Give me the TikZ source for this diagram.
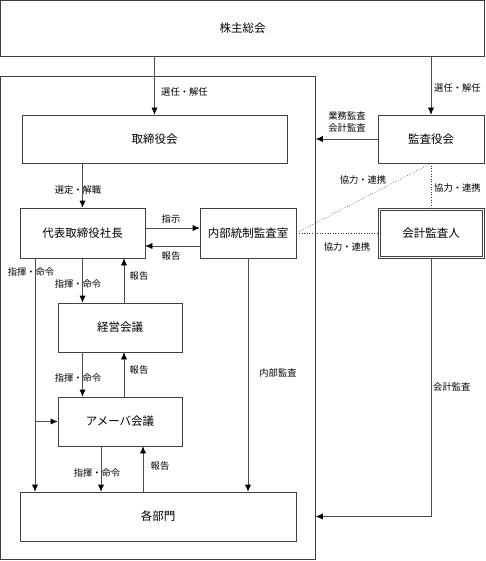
\documentclass[tikz,border=0pt]{standalone}
\usepackage{fontspec}
\setmainfont{Noto Sans CJK JP}
\usetikzlibrary{arrows.meta}
\tikzset{
  box/.style={draw=black!75, line width=.6pt, inner sep=0pt, font=\fontsize{11.5}{13}\selectfont},
  lbl/.style={inner sep=0pt, font=\fontsize{9.3}{11.5}\selectfont},
  conn/.style={draw=black!70, line width=.6pt},
  coop/.style={draw=black!80, line width=.6pt, dotted}
}
\begin{document}
\begin{tikzpicture}[>={Latex[length=7pt,width=6pt,black]}, x=1pt, y=-1pt]
    \useasboundingbox (0,0) rectangle (485,561);
    \node[box, minimum width=484pt, minimum height=55.5pt] (soukai) at (242.5,28.25) {株主総会};
    \node[box, minimum width=315pt, minimum height=483pt] (waku) at (158,317.5) {};
    \node[box, minimum width=265pt, minimum height=48pt] (torishimari) at (154.5,139) {取締役会};
    \node[box, minimum width=106pt, minimum height=48pt] (kansayaku) at (431,139) {監査役会};
    \node[box, minimum width=125pt, minimum height=50pt] (daihyo) at (82.5,233) {代表取締役社長};
    \node[box, minimum width=96pt, minimum height=50pt] (naibu) at (248,233) {内部統制監査室};
    \node[box, minimum width=106pt, minimum height=50pt] (kaikei) at (431,233) {会計監査人};
    \draw[black!75, line width=.6pt]([shift={(2.5pt,2.5pt)}]kaikei.south west) rectangle ([shift={(-2.5pt,-2.5pt)}]kaikei.north east);
    \node[box, minimum width=124pt, minimum height=49pt] (keiei) at (120,327.5) {経営会議};
    \node[box, minimum width=124pt, minimum height=49pt] (ameba) at (120,421.5) {アメーバ会議};
    \node[box, minimum width=276pt, minimum height=49pt] (bumon) at (158,516.5) {各部門};
    \coordinate (shiki) at (35,258);

    \draw[conn,->](torishimari.north |- soukai.south)--(torishimari.north);
    \draw[conn,->](kansayaku.north |- soukai.south)--(kansayaku.north);
    \draw[conn,->](kansayaku.west)--(waku.east |- kansayaku.west);
    \draw[conn,->](daihyo.north |- torishimari.south)--(daihyo.north);
    \draw[conn,->]([yshift=5pt]daihyo.east)--([yshift=5pt]naibu.west);
    \draw[conn,->]([yshift=-13pt]naibu.west)--([yshift=-13pt]daihyo.east);
    \draw[conn,->](shiki)--(shiki |- bumon.north);
    \draw[conn,->](shiki |- ameba.west)--(ameba.west);
    \draw[conn,->](daihyo.south)--(daihyo.south |- keiei.north);
    \draw[conn,->]([xshift=4pt]keiei.north)--([xshift=4pt]keiei.north |- daihyo.south);
    \draw[conn,->](daihyo.south |- keiei.south)--(daihyo.south |- ameba.north);
    \draw[conn,->]([xshift=4pt]ameba.north)--([xshift=4pt]keiei.south);
    \draw[conn,->]([xshift=-19pt]ameba.south)--([xshift=-19pt]ameba.south |- bumon.north);
    \draw[conn,->]([xshift=23pt]ameba.south |- bumon.north)--([xshift=23pt]ameba.south);
    \draw[conn,->](naibu.south)--(naibu.south |- bumon.north);
    \draw[conn,->](kaikei.south)|-(waku.east |- bumon.east);
    \draw[coop](naibu.east)--(kaikei.west);
    \draw[coop](naibu.east)--(kansayaku.south);
    \draw[coop](kansayaku.south)--(kaikei.north);

    \node[lbl, anchor=west] (sennin1) at (161,92) {選任・解任};
    \node[lbl, anchor=west] (sennin2) at (434,88) {選任・解任};
    \node[lbl, align=right] (kansa) at (347,122) {業務監査\\会計監査};
    \node[lbl] (sentei) at (78,190) {選定・解職};
    \node[lbl] (shiji) at (171,219) {指示};
    \node[lbl] (houkoku1) at (171,256) {報告};
    \node[lbl] (kyoryoku1) at (363,180) {協力・連携};
    \node[lbl, anchor=west] (kyoryoku2) at (434,188) {協力・連携};
    \node[lbl] (kyoryoku3) at (347,247) {協力・連携};
    \node[lbl] (meirei1) at (31,272) {指揮・命令};
    \node[lbl] (meirei2) at (78,284) {指揮・命令};
    \node[lbl] (houkoku2) at (139,276) {報告};
    \node[lbl] (meirei3) at (78,378) {指揮・命令};
    \node[lbl] (houkoku3) at (139,370) {報告};
    \node[lbl] (meirei4) at (97,473) {指揮・命令};
    \node[lbl] (houkoku4) at (160,466) {報告};
    \node[lbl] (naibukansa) at (278,373) {内部監査};
    \node[lbl, anchor=west] (kaikeikansa) at (433,387) {会計監査};
\end{tikzpicture}
\end{document}
